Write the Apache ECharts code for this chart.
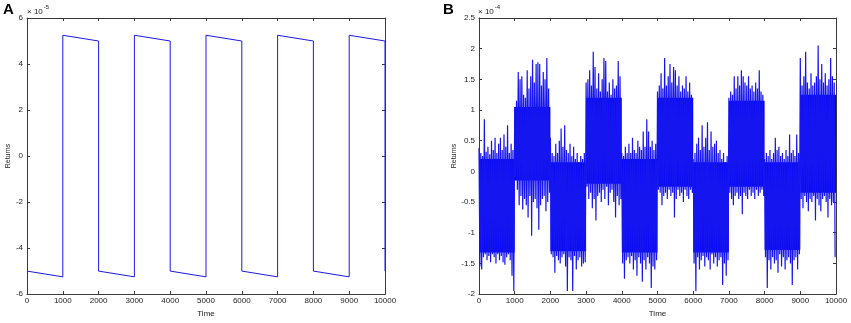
<!DOCTYPE html>
<html>
<head>
<meta charset="utf-8">
<script src="https://cdn.jsdelivr.net/npm/echarts@6/dist/echarts.min.js"></script>
<style>
html,body{margin:0;padding:0;background:#fff;}
#chart{width:851px;height:323px;}
</style>
</head>
<body>
<div id="chart"></div>
<script>
// ---------- Panel A: square-wave returns (values in units of 1e-5) ----------
var aTime  = [0,1000,1000,2000,2000,3000,3000,4000,4000,5000,5000,6000,6000,7000,7000,8000,8000,9000,9000,10000,10000];
var aValue = [-5.0,-5.25,5.25,5.0,-5.0,-5.25,5.25,5.0,-5.0,-5.25,5.25,5.0,-5.0,-5.25,5.25,5.0,-5.0,-5.25,5.25,5.0,-5.0];

// ---------- Panel B: noisy returns (values in units of 1e-4) ----------
// dense core of the noise band per 1000-step regime
var bSegStart  = [0,1000,2000,3000,4000,5000,6000,7000,8000,9000];
var bSegEnd    = [1000,2000,3000,4000,5000,6000,7000,8000,9000,10000];
var bCoreTop   = [0.20,1.05,0.15,1.20,0.20,1.20,0.15,1.15,0.15,1.25];
var bCoreBot   = [-1.32,-0.15,-1.30,-0.20,-1.32,-0.25,-1.32,-0.25,-1.28,-0.35];
// per 50-step bin: local upper peak and local lower trough
var bBin = 50;
var bHigh = [
  0.38,0.30,0.25,0.85,0.32,0.40,0.28,0.50,0.35,0.55,0.30,0.45,0.55,0.35,0.60,0.40,0.75,0.30,0.45,0.35,
  1.05,1.15,1.62,1.50,1.55,1.25,1.20,1.65,1.35,1.55,1.82,1.45,1.75,1.78,1.75,1.40,1.62,1.50,1.85,1.35,
  0.55,0.30,0.25,0.45,0.30,0.50,0.70,0.40,0.75,0.35,0.30,0.45,0.25,0.40,0.20,0.30,0.15,0.25,0.20,0.30,
  1.45,1.50,1.65,1.40,1.95,1.70,1.35,1.60,1.30,1.50,1.85,1.80,1.30,1.45,1.25,1.50,1.35,1.40,1.80,1.55,
  0.30,0.25,0.40,0.30,0.45,0.30,0.55,0.35,0.30,0.50,0.40,0.35,0.65,0.40,0.85,0.65,0.40,0.50,0.35,0.45,
  1.30,1.40,1.60,1.35,1.85,1.40,1.55,1.75,1.45,1.70,1.65,1.40,1.55,1.30,1.40,1.35,1.55,1.30,1.45,1.25,
  0.20,0.30,0.45,0.55,0.35,0.75,0.40,0.55,0.80,0.35,0.65,0.40,0.45,0.50,0.30,0.35,0.20,0.30,0.15,0.25,
  1.20,1.30,1.25,1.55,1.35,1.55,1.40,1.65,1.55,1.45,1.40,1.55,1.35,1.40,1.30,1.45,1.35,1.65,1.30,1.25,
  0.20,0.30,0.25,0.35,0.20,0.30,0.55,0.35,0.40,0.25,0.30,0.20,0.35,0.25,0.60,0.30,0.35,0.25,0.60,0.30,
  1.85,1.40,1.55,1.95,1.45,1.35,1.60,1.40,1.45,1.55,2.05,1.50,1.75,1.45,1.60,1.40,1.50,1.85,1.55,1.45
];
var bLow = [
  -1.55,-1.60,-1.40,-1.35,-1.45,-1.38,-1.48,-1.35,-1.40,-1.50,-1.35,-1.45,-1.38,-1.48,-1.52,-1.40,-1.35,-1.45,-1.70,-1.95,
  -0.10,-0.30,-0.55,-0.40,-0.62,-0.45,-0.55,-0.75,-0.40,-1.05,-0.50,-0.45,-0.60,-0.95,-0.55,-0.45,-0.40,-0.65,-0.50,-0.35,
  -1.35,-1.40,-1.65,-1.38,-1.45,-1.50,-1.40,-1.35,-1.55,-1.95,-1.40,-1.45,-1.95,-1.38,-1.60,-1.45,-1.40,-1.55,-1.50,-1.48,
  -0.25,-0.45,-0.35,-0.60,-0.45,-0.80,-0.40,-0.35,-0.50,-0.30,-0.45,-0.25,-0.55,-0.35,-0.30,-0.50,-0.75,-0.40,-0.55,-0.45,
  -1.50,-1.75,-1.45,-1.40,-1.50,-1.38,-1.60,-1.45,-1.70,-1.40,-1.50,-1.80,-1.45,-1.60,-1.40,-1.50,-1.90,-1.55,-1.60,-1.45,
  -0.30,-0.35,-0.55,-0.40,-0.35,-0.45,-0.30,-0.40,-0.35,-0.75,-0.45,-0.30,-0.40,-0.35,-0.50,-0.30,-0.40,-0.45,-0.30,-0.35,
  -1.50,-1.95,-1.40,-1.60,-1.45,-1.38,-1.55,-1.40,-1.45,-1.60,-1.35,-1.50,-1.40,-1.55,-1.45,-1.40,-1.85,-1.50,-1.70,-1.45,
  -0.35,-0.45,-0.55,-0.40,-0.35,-0.45,-0.40,-0.70,-0.35,-0.40,-0.45,-0.30,-0.40,-0.35,-0.45,-0.30,-0.40,-0.35,-0.30,-0.40,
  -1.40,-1.90,-1.45,-1.60,-1.40,-1.50,-1.45,-1.65,-1.35,-1.55,-1.40,-1.60,-1.45,-1.40,-1.50,-1.85,-1.45,-1.40,-1.60,-1.35,
  -0.45,-0.60,-0.40,-0.50,-0.65,-0.45,-0.50,-0.40,-0.80,-0.45,-0.55,-0.65,-0.45,-0.40,-0.50,-0.75,-0.45,-0.55,-0.50,-1.40
];

var xTicks = [0,1000,2000,3000,4000,5000,6000,7000,8000,9000,10000];
var aYTicks = [-6,-4,-2,0,2,4,6];
var bYTicks = [-2,-1.5,-1,-0.5,0,0.5,1,1.5,2,2.5];

// ---------- build series data ----------
var aData = aTime.map(function (t, i) { return [t, aValue[i]]; });
var bData = [];
var nB = Math.min(bHigh.length, bLow.length);
for (var i = 0; i < nB; i++) {
  bData.push([i * bBin, bHigh[i]]);
  bData.push([i * bBin + bBin / 2, bLow[i]]);
}
var bCoreData = bSegStart.map(function (s, i) { return [s, bSegEnd[i], bCoreBot[i], bCoreTop[i]]; });

var FONT = 'Liberation Sans, Arial, sans-serif';
var AXC = '#3a3a3a';
var TXT = '#222';
var BLUE = '#0000ff';

function xAxisDef(gi, pos, labels) {
  return {
    type: 'value', gridIndex: gi, position: pos,
    min: xTicks[0], max: xTicks[xTicks.length - 1], interval: 1000,
    name: labels ? 'Time' : '', nameLocation: 'middle', nameGap: 14,
    nameTextStyle: { fontFamily: FONT, fontSize: 8, color: TXT },
    axisLine: { show: true, onZero: false, lineStyle: { color: AXC, width: 1 } },
    axisTick: { show: true, inside: true, length: 3, lineStyle: { color: AXC } },
    axisLabel: { show: labels, fontFamily: FONT, fontSize: 8, color: TXT, margin: 3,
      formatter: function (v) { return String(v); } },
    splitLine: { show: false }
  };
}
function yAxisDef(gi, pos, ticks, step, labels) {
  return {
    type: 'value', gridIndex: gi, position: pos,
    min: ticks[0], max: ticks[ticks.length - 1], interval: step,
    name: labels ? 'Returns' : '', nameLocation: 'middle', nameGap: 15, nameRotate: 90,
    nameTextStyle: { fontFamily: FONT, fontSize: 7, color: TXT },
    axisLine: { show: true, onZero: false, lineStyle: { color: AXC, width: 1 } },
    axisTick: { show: true, inside: true, length: 3, lineStyle: { color: AXC } },
    axisLabel: { show: labels, fontFamily: FONT, fontSize: 8, color: TXT, margin: 4,
      formatter: function (v) { return String(v); } },
    splitLine: { show: false }
  };
}

var chart = echarts.init(document.getElementById('chart'), null, { renderer: 'canvas' });
chart.setOption({
  animation: false,
  backgroundColor: '#ffffff',
  grid: [
    { left: 27, top: 18, width: 358, height: 281 },
    { left: 479, top: 18, width: 357, height: 281 }
  ],
  xAxis: [
    xAxisDef(0, 'bottom', true), xAxisDef(0, 'top', false),
    xAxisDef(1, 'bottom', true), xAxisDef(1, 'top', false)
  ],
  yAxis: [
    yAxisDef(0, 'left', aYTicks, 2, true), yAxisDef(0, 'right', aYTicks, 2, false),
    yAxisDef(1, 'left', bYTicks, 0.5, true), yAxisDef(1, 'right', bYTicks, 0.5, false)
  ],
  series: [
    { type: 'line', xAxisIndex: 0, yAxisIndex: 0, data: aData, symbol: 'none',
      lineStyle: { color: '#1a1ae6', width: 1 }, silent: true },
    { type: 'custom', xAxisIndex: 2, yAxisIndex: 2, data: bCoreData, silent: true,
      renderItem: function (params, api) {
        var p0 = api.coord([api.value(0), api.value(3)]);
        var p1 = api.coord([api.value(1), api.value(2)]);
        return { type: 'rect', shape: { x: p0[0], y: p0[1], width: p1[0] - p0[0], height: p1[1] - p0[1] },
                 style: { fill: BLUE } };
      } },
    { type: 'line', xAxisIndex: 2, yAxisIndex: 2, data: bData, symbol: 'none', sampling: null,
      lineStyle: { color: '#1515f0', width: 1.2 }, silent: true }
  ],
  graphic: [
    { type: 'text', left: 3, top: 2, style: { text: 'A', fontFamily: FONT, fontWeight: 'bold', fontSize: 15, fill: '#000' } },
    { type: 'text', left: 443, top: 2, style: { text: 'B', fontFamily: FONT, fontWeight: 'bold', fontSize: 15, fill: '#000' } },
    { type: 'text', left: 27, top: 4, style: { text: '{a|\u00d7 10}{b|-5}', rich: {
        a: { fontFamily: FONT, fontSize: 8, fill: TXT, verticalAlign: 'bottom', padding: [4, 0, 0, 0] },
        b: { fontFamily: FONT, fontSize: 6, fill: TXT, verticalAlign: 'top', padding: [0, 0, 4, 1] } } } },
    { type: 'text', left: 478, top: 4, style: { text: '{a|\u00d7 10}{b|-4}', rich: {
        a: { fontFamily: FONT, fontSize: 8, fill: TXT, verticalAlign: 'bottom', padding: [4, 0, 0, 0] },
        b: { fontFamily: FONT, fontSize: 6, fill: TXT, verticalAlign: 'top', padding: [0, 0, 4, 1] } } } }
  ]
});
</script>
</body>
</html>
